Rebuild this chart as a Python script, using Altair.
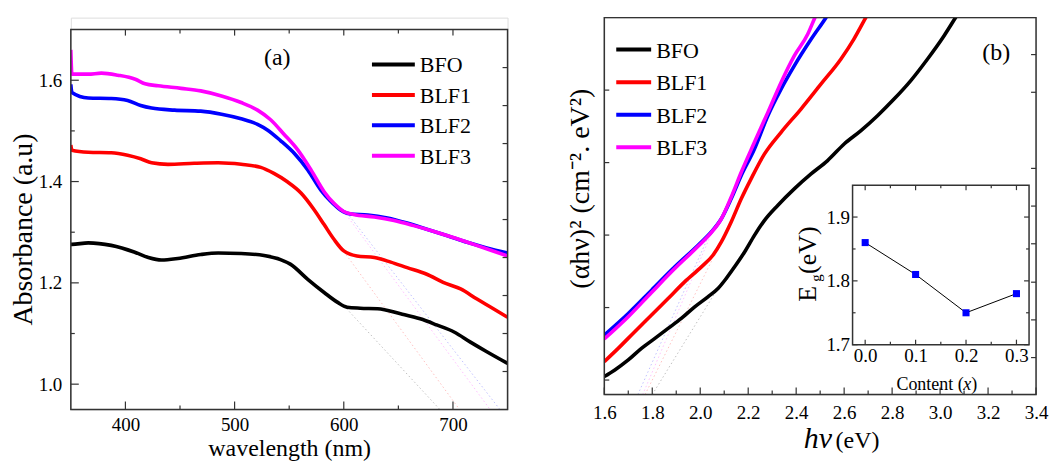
import altair as alt
import pandas as pd

FONT = "Liberation Serif"
AXC = "#333333"

SERIES = ["BFO", "BLF1", "BLF2", "BLF3"]
COLORS = ["#000000", "#ff0000", "#0000ff", "#ff00ff"]

# ---------------- panel (a): absorbance vs wavelength ----------------
BFO_WL = [350, 351, 366, 387, 408, 421, 433, 448, 469, 485, 506, 527, 542, 551, 567, 582, 594, 603,
          615, 631, 652, 670, 685, 701, 716, 731, 750]
BFO_ABS = [1.276, 1.276, 1.279, 1.274, 1.261, 1.250, 1.245, 1.248, 1.256, 1.259, 1.258, 1.254, 1.246,
           1.237, 1.207, 1.181, 1.162, 1.152, 1.150, 1.149, 1.139, 1.129, 1.117, 1.103, 1.083, 1.064, 1.041]

BLF1_WL = [350, 351, 366, 387, 402, 414, 424, 439, 463, 485, 506, 524, 536, 548, 561, 573, 582, 591,
           600, 612, 628, 643, 658, 676, 691, 707, 722, 737, 750]
BLF1_ABS = [1.472, 1.462, 1.458, 1.457, 1.452, 1.445, 1.437, 1.434, 1.436, 1.437, 1.434, 1.428, 1.416,
            1.400, 1.377, 1.344, 1.315, 1.286, 1.263, 1.253, 1.250, 1.241, 1.230, 1.217, 1.201, 1.188,
            1.168, 1.149, 1.132]

BLF2_WL = [350, 351, 366, 387, 402, 414, 424, 445, 469, 488, 506, 521, 530, 542, 555, 567, 579, 588,
           597, 606, 622, 640, 658, 676, 695, 713, 731, 750]
BLF2_ABS = [1.592, 1.576, 1.565, 1.564, 1.560, 1.550, 1.545, 1.541, 1.539, 1.533, 1.524, 1.513, 1.502,
            1.481, 1.455, 1.423, 1.383, 1.361, 1.344, 1.336, 1.334, 1.328, 1.318, 1.306, 1.293, 1.280,
            1.269, 1.259]

BLF3_WL = [350, 351, 366, 378, 393, 409, 418, 430, 451, 469, 488, 506, 521, 533, 545, 558, 570, 582,
           591, 600, 609, 628, 646, 664, 682, 701, 719, 734, 750]
BLF3_ABS = [1.660, 1.612, 1.612, 1.614, 1.610, 1.602, 1.593, 1.589, 1.584, 1.579, 1.569, 1.556, 1.541,
            1.522, 1.494, 1.462, 1.423, 1.380, 1.357, 1.341, 1.335, 1.330, 1.323, 1.313, 1.302, 1.289,
            1.276, 1.265, 1.253]

# faint tangent (extrapolation) lines in (a)
TAN_A_X = [[600, 688], [600, 706], [603, 743], [600, 734]]
TAN_A_Y = [[1.155, 0.95], [1.262, 0.95], [1.338, 0.95], [1.341, 0.95]]

A_XLABELS = [400, 500, 600, 700]
A_XMINOR = [450, 550, 650]
A_YLABELS = [1.0, 1.2, 1.4, 1.6]
A_YMINOR = [1.1, 1.3, 1.5]
A_YRIGHT = [1.025, 1.1, 1.175, 1.25, 1.325, 1.4, 1.475, 1.55, 1.625]

# ---------------- panel (b): Tauc plot ----------------
BFO_E = [1.600, 1.644, 1.700, 1.755, 1.811, 1.866, 1.921, 1.977, 2.032, 2.074, 2.108, 2.143, 2.185,
         2.226, 2.268, 2.323, 2.392, 2.462, 2.531, 2.600, 2.670, 2.739, 2.808, 2.877, 2.947, 3.016,
         3.064, 3.12]
BFO_T = [0.048, 0.139, 0.277, 0.437, 0.575, 0.712, 0.850, 1.010, 1.148, 1.263, 1.400, 1.561, 1.767,
         1.996, 2.203, 2.409, 2.638, 2.844, 3.028, 3.257, 3.441, 3.647, 3.876, 4.128, 4.426, 4.747,
         4.999, 5.3]

BLF1_E = [1.600, 1.658, 1.727, 1.797, 1.866, 1.935, 2.005, 2.053, 2.088, 2.129, 2.171, 2.212, 2.268,
          2.337, 2.420, 2.503, 2.586, 2.640, 2.690, 2.74]
BLF1_T = [0.254, 0.437, 0.667, 0.896, 1.125, 1.354, 1.561, 1.721, 1.905, 2.180, 2.501, 2.776, 3.120,
          3.418, 3.739, 4.082, 4.426, 4.700, 4.999, 5.3]

BLF2_E = [1.600, 1.700, 1.797, 1.894, 1.991, 2.046, 2.088, 2.129, 2.171, 2.226, 2.282, 2.337, 2.392,
          2.462, 2.524, 2.58]
BLF2_T = [0.621, 0.919, 1.240, 1.561, 1.859, 2.042, 2.225, 2.501, 2.822, 3.188, 3.647, 4.014, 4.335,
          4.701, 4.999, 5.3]

BLF3_E = [1.600, 1.700, 1.797, 1.894, 1.991, 2.046, 2.088, 2.129, 2.171, 2.226, 2.282, 2.337, 2.392,
          2.448, 2.478, 2.52]
BLF3_T = [0.566, 0.873, 1.208, 1.538, 1.845, 2.033, 2.225, 2.523, 2.867, 3.280, 3.693, 4.106, 4.472,
          4.770, 4.999, 5.3]

TAN_B_X = [[1.80, 2.08], [1.77, 2.05], [1.74, 2.03], [1.76, 2.04]]
TAN_B_Y = [[-0.2, 1.30], [-0.2, 1.66], [-0.2, 1.95], [-0.2, 1.97]]

B_XLABELS = [1.6, 1.8, 2.0, 2.2, 2.4, 2.6, 2.8, 3.0, 3.2, 3.4]
B_XMINOR = [1.7, 1.9, 2.1, 2.3, 2.5, 2.7, 2.9, 3.1, 3.3]
B_YLEFT = [0, 1, 2, 3, 4]
B_YRIGHT = [0.31, 0.83, 1.35, 1.88, 2.40, 2.92, 3.97, 4.49]

# inset: band gap vs content
CONTENT = [0.0, 0.1, 0.2, 0.3]
EG = [1.86, 1.81, 1.75, 1.78]
I_XLABELS = [0.0, 0.1, 0.2, 0.3]
I_XMINOR = [0.05, 0.15, 0.25]
I_YLABELS = [1.7, 1.8, 1.9]
I_YMINOR = [1.75, 1.85]

# ---------------- geometry ----------------
WA, HA, TOPA = 438, 393, 12
WB, HB = 433, 378
IX0, IX1, IYB, IYT = 249, 426, 328, 168

color_scale = alt.Scale(domain=SERIES, range=COLORS)


def long_df(xs_list, ys_list):
    rows = []
    for name, xs, ys in zip(SERIES, xs_list, ys_list):
        for i, (x, y) in enumerate(zip(xs, ys)):
            rows.append({"series": name, "x": x, "y": y, "i": i})
    return pd.DataFrame(rows)


def ticks_x(vals, scale, axis, y0, y1):
    return alt.Chart(pd.DataFrame({"t": vals})).mark_rule(color=AXC, strokeWidth=1.2).encode(
        x=alt.X("t:Q", scale=scale, axis=axis), y=alt.value(y0), y2=alt.value(y1))


def ticks_y(vals, scale, axis, x0, x1):
    return alt.Chart(pd.DataFrame({"t": vals})).mark_rule(color=AXC, strokeWidth=1.2).encode(
        y=alt.Y("t:Q", scale=scale, axis=axis), x=alt.value(x0), x2=alt.value(x1))


def frame(x0, x1, y0, y1, fill_opacity=0.0):
    return alt.Chart(pd.DataFrame({"k": [0]})).mark_rect(
        fill="white", fillOpacity=fill_opacity, stroke=AXC, strokeWidth=1.5).encode(
        x=alt.value(x0), x2=alt.value(x1), y=alt.value(y0), y2=alt.value(y1))


def legend(x0, x1, xt, y0, dy, fs):
    base = alt.Chart(pd.DataFrame({"series": SERIES})).transform_window(
        idx="row_number()").transform_calculate(
        ly=f"{y0} + (datum.idx - 1) * {dy}", ty=f"{y0} + (datum.idx - 1) * {dy} + 8")
    lines = base.mark_rule(strokeWidth=4).encode(
        x=alt.value(x0), x2=alt.value(x1), y=alt.Y("ly:Q", scale=None),
        color=alt.Color("series:N", scale=color_scale, legend=None))
    texts = base.mark_text(align="left", baseline="alphabetic", font=FONT, fontSize=fs,
                           color="black").encode(
        x=alt.value(xt), y=alt.Y("ty:Q", scale=None), text="series:N")
    return lines + texts


def label(txt, x, y, fs, style="normal", angle=0, align="center"):
    return alt.Chart(pd.DataFrame({"k": [0]})).mark_text(
        text=txt, font=FONT, fontSize=fs, fontStyle=style, angle=angle, align=align,
        baseline="alphabetic", color="black").encode(x=alt.value(x), y=alt.value(y))


# ---------------- panel (a) ----------------
xa = alt.Scale(domain=[350, 750], nice=False, zero=False)
ya = alt.Scale(domain=[0.95, 1.70], range=[HA, TOPA], nice=False, zero=False)

df_a = long_df([BFO_WL, BLF1_WL, BLF2_WL, BLF3_WL], [BFO_ABS, BLF1_ABS, BLF2_ABS, BLF3_ABS])
tan_a = long_df(TAN_A_X, TAN_A_Y)

axis_xa = alt.Axis(values=A_XLABELS, format="d", ticks=False, domain=False, grid=False,
                   labelFont=FONT, labelFontSize=19, labelColor="black", labelPadding=6,
                   labelFlush=False, labelOverlap=False,
                   title="wavelength (nm)", titleFont=FONT, titleFontSize=24,
                   titleFontWeight="normal", titleColor="black", titlePadding=2)
axis_ya = alt.Axis(values=A_YLABELS, format=".1f", ticks=False, domain=False, grid=False,
                   labelFont=FONT, labelFontSize=19, labelColor="black", labelPadding=9,
                   labelFlush=False, labelOverlap=False,
                   title="Absorbance (a.u)", titleFont=FONT, titleFontSize=28,
                   titleFontWeight="normal", titleColor="black", titlePadding=1, titleY=212)

curves_a = alt.Chart(df_a).mark_line(strokeWidth=3.6, clip=True, interpolate="monotone").encode(
    x=alt.X("x:Q", scale=xa, axis=axis_xa), y=alt.Y("y:Q", scale=ya, axis=axis_ya),
    color=alt.Color("series:N", scale=color_scale, legend=None), order="i:Q")
tangents_a = alt.Chart(tan_a).mark_line(strokeWidth=1, strokeDash=[1.5, 2.5], opacity=0.25).encode(
    x=alt.X("x:Q", scale=xa, axis=axis_xa), y=alt.Y("y:Q", scale=ya, axis=axis_ya),
    color=alt.Color("series:N", scale=color_scale, legend=None), detail="series:N")

panel_a = alt.layer(
    tangents_a, curves_a,
    frame(0, WA, TOPA, HA),
    ticks_x(A_XLABELS, xa, axis_xa, HA, HA - 8), ticks_x(A_XMINOR, xa, axis_xa, HA, HA - 4),
    ticks_x(A_XLABELS, xa, axis_xa, TOPA, TOPA + 6), ticks_x(A_XMINOR, xa, axis_xa, TOPA, TOPA + 4),
    ticks_y(A_YLABELS, ya, axis_ya, 0, 8), ticks_y(A_YMINOR, ya, axis_ya, 0, 4),
    ticks_y(A_YRIGHT, ya, axis_ya, WA, WA - 5),
    legend(302, 345, 350, 47, 30.5, 22),
    label("(a)", 207, 48, 24),
).properties(width=WA, height=HA)

# ---------------- panel (b) ----------------
xb = alt.Scale(domain=[1.6, 3.4], nice=False, zero=False)
yb = alt.Scale(domain=[-0.2, 5.0], nice=False, zero=False)

df_b = long_df([BFO_E, BLF1_E, BLF2_E, BLF3_E], [BFO_T, BLF1_T, BLF2_T, BLF3_T])
tan_b = long_df(TAN_B_X, TAN_B_Y)

axis_xb = alt.Axis(values=B_XLABELS, format=".1f", ticks=False, domain=False, grid=False,
                   labelFont=FONT, labelFontSize=19, labelColor="black", labelPadding=9,
                   labelFlush=False, labelOverlap=False, title=None)
axis_yb = alt.Axis(orient="left", labels=False, ticks=False, domain=False, grid=False,
                   title="(αhν)² (cm⁻². eV²)", titleFont=FONT, titleFontSize=28,
                   titleFontWeight="normal", titleColor="black", titlePadding=10, titleY=171)

curves_b = alt.Chart(df_b).mark_line(strokeWidth=3.6, clip=True, interpolate="monotone").encode(
    x=alt.X("x:Q", scale=xb, axis=axis_xb), y=alt.Y("y:Q", scale=yb, axis=axis_yb),
    color=alt.Color("series:N", scale=color_scale, legend=None), order="i:Q")
tangents_b = alt.Chart(tan_b).mark_line(strokeWidth=1, strokeDash=[1.5, 2.5], opacity=0.25).encode(
    x=alt.X("x:Q", scale=xb, axis=axis_xb), y=alt.Y("y:Q", scale=yb, axis=axis_yb),
    color=alt.Color("series:N", scale=color_scale, legend=None), detail="series:N")

main_b = alt.layer(
    tangents_b, curves_b,
    frame(0, WB, 0, HB),
    ticks_x(B_XLABELS, xb, axis_xb, HB, HB - 7), ticks_x(B_XMINOR, xb, axis_xb, HB, HB - 4),
    ticks_y(B_YLEFT, yb, axis_yb, 0, 5),
    ticks_y(B_YRIGHT, yb, axis_yb, WB, WB - 5),
    legend(12, 47, 52, 32, 32.7, 22),
    label("(b)", 393, 42, 24),
    label("hν", 200, 432, 30, style="italic", align="left"),
    label("(eV)", 232, 432, 24, align="left"),
)

# inset
xi = alt.Scale(domain=[-0.025, 0.325], range=[IX0, IX1], nice=False, zero=False)
yi = alt.Scale(domain=[1.7, 1.95], range=[IYB, IYT], nice=False, zero=False)
df_i = pd.DataFrame({"c": CONTENT, "eg": EG})

axis_xi = alt.Axis(orient="bottom", offset=-(HB - IYB), values=I_XLABELS, format=".1f",
                   ticks=False, domain=False, grid=False, labelFont=FONT, labelFontSize=19,
                   labelColor="black", labelPadding=2, labelFlush=False, labelOverlap=False,
                   title=None)
axis_yi = alt.Axis(orient="left", offset=-IX0, values=I_YLABELS, format=".1f",
                   ticks=False, domain=False, grid=False, labelFont=FONT, labelFontSize=19,
                   labelColor="black", labelPadding=3, labelFlush=False, labelOverlap=False,
                   title=None)

inset_line = alt.Chart(df_i).mark_line(color="black", strokeWidth=1).encode(
    x=alt.X("c:Q", scale=xi, axis=axis_xi), y=alt.Y("eg:Q", scale=yi, axis=axis_yi))
inset_pts = alt.Chart(df_i).mark_square(size=50, color="#0000ff", opacity=1).encode(
    x=alt.X("c:Q", scale=xi, axis=axis_xi), y=alt.Y("eg:Q", scale=yi, axis=axis_yi))

inset = alt.layer(
    frame(IX0, IX1, IYT, IYB, fill_opacity=1.0),
    inset_line, inset_pts,
    ticks_x(I_XLABELS, xi, axis_xi, IYB, IYB - 5), ticks_x(I_XMINOR, xi, axis_xi, IYB, IYB - 3),
    ticks_x(I_XLABELS, xi, axis_xi, IYT, IYT + 5), ticks_x(I_XMINOR, xi, axis_xi, IYT, IYT + 3),
    ticks_y(I_YLABELS, yi, axis_yi, IX0, IX0 + 5), ticks_y(I_YMINOR, yi, axis_yi, IX0, IX0 + 3),
    ticks_y(I_YLABELS, yi, axis_yi, IX1, IX1 - 5), ticks_y(I_YMINOR, yi, axis_yi, IX1, IX1 - 3),
    label("Content (", 293, 373, 18, align="left"),
    label("x", 360, 373, 18, style="italic", align="left"),
    label(")", 368, 373, 18, align="left"),
    label("E", 212, 285, 26, angle=270, align="left"),
    label("g", 217, 265, 15, angle=270, align="left"),
    label("(eV)", 212, 257, 26, angle=270, align="left"),
)

panel_b = alt.layer(main_b, inset).resolve_scale(x="independent", y="independent").properties(
    width=WB, height=HB)

chart = alt.hconcat(panel_a, panel_b, spacing=56).properties(
    padding={"left": 0, "top": 7, "right": 0, "bottom": 0},
    background="white",
).configure_view(stroke=None).configure(font=FONT)

chart.save("out.html", embed_options={"renderer": "svg", "actions": False})
